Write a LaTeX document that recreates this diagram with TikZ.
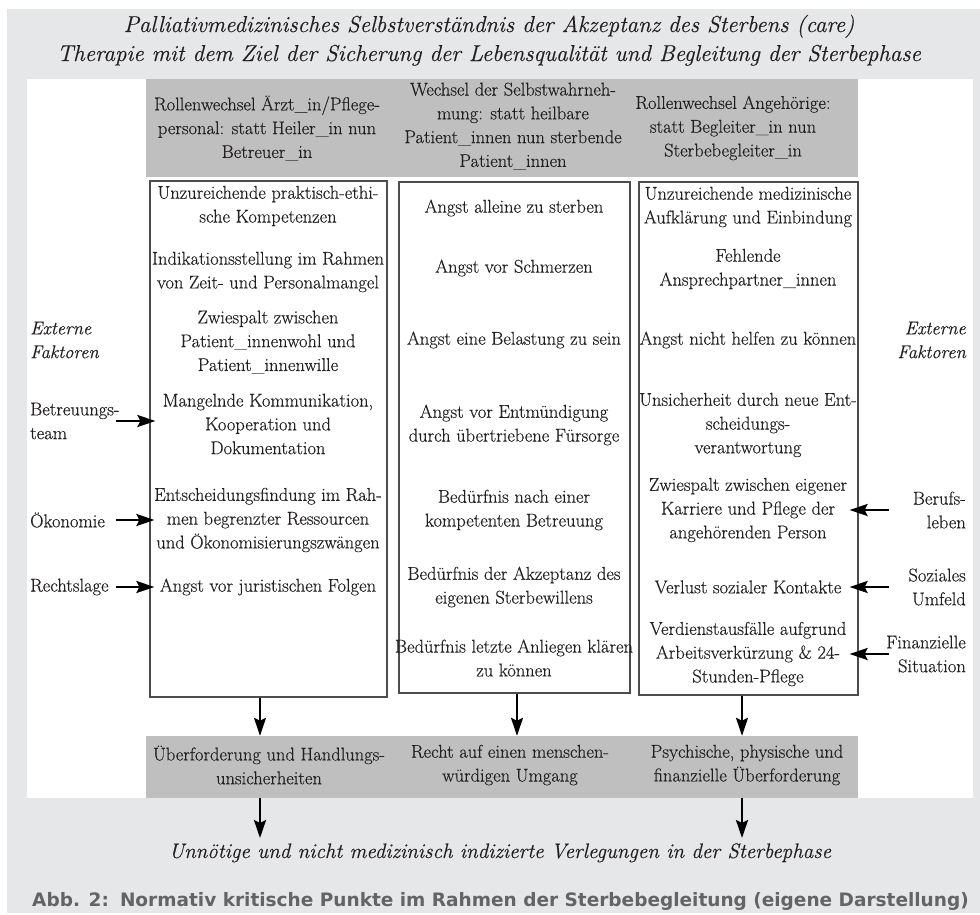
\documentclass[tikz,border=0pt]{standalone}
\usepackage{fontspec}
\newfontfamily\capfont{DejaVu Sans}
\newfontfamily\bodyfont{Latin Modern Roman}[FakeBold=0.35]
\usetikzlibrary{arrows.meta}
\definecolor{bg}{HTML}{E6E7E9}
\definecolor{band}{HTML}{BFBFBF}
\definecolor{ink}{HTML}{231F20}
\definecolor{frame}{HTML}{4D4D4D}
\definecolor{capgray}{HTML}{636466}
\tikzset{
  txt/.style={font=\bodyfont\fontsize{18.5}{23.8}\selectfont, align=center, inner sep=0pt, text=ink},
  lbl/.style={txt, align=left, anchor=west},
  rlbl/.style={txt, align=right, anchor=east},
  itl/.style={font=\bodyfont\fontsize{18.5}{23.8}\selectfont\itshape, inner sep=0pt, text=ink},
  ttl/.style={font=\bodyfont\fontsize{23}{29}\selectfont\itshape, inner sep=0pt, text=ink, anchor=base},
  frbox/.style={draw=frame, line width=1.2pt, fill=white, inner sep=0pt},
  bandbox/.style={fill=band, inner sep=0pt},
  arr/.style={-{Stealth[length=18pt,width=12pt,inset=3pt]}, line width=2.4pt, draw=black},
}
\begin{document}
\begin{tikzpicture}[x=1pt,y=-1pt]
\useasboundingbox (0,0) rectangle (980,914);
\fill[white] (0,0) rectangle (980,914);
\fill[bg] (7,9) rectangle (980,913);
\fill[white] (27,79) rectangle (973,798);

% title
\node[ttl] (title1) at (489,32) {Palliativmedizinisches Selbstverständnis der Akzeptanz des Sterbens (care)};
\node[ttl] (title2) at (489,61) {Therapie mit dem Ziel der Sicherung der Lebensqualität und Begleitung der Sterbephase};

% header band
\node[bandbox, minimum width=712pt, minimum height=98pt] (topband) at (502,128) {};
\node[txt] (hL) at (267,128) {Rollenwechsel Ärzt\_in/Pflege-\\personal: statt Heiler\_in nun\\Betreuer\_in};
\node[txt] (hM) at (513,126) {Wechsel der Selbstwahrneh-\\mung: statt heilbare\\Patient\_innen nun sterbende\\Patient\_innen};
\node[txt] (hR) at (733,128) {Rollenwechsel Angehörige:\\statt Begleiter\_in nun\\Sterbebegleiter\_in};

% column boxes
\node[frbox, minimum width=237pt, minimum height=516pt] (boxL) at (268.5,439) {};
\node[frbox, minimum width=231pt, minimum height=511pt] (boxM) at (514.5,437.5) {};
\node[frbox, minimum width=219pt, minimum height=513pt] (boxR) at (748.5,438.5) {};

% left column
\node[txt] (L1) at (268,206) {Unzureichende praktisch-ethi-\\sche Kompetenzen};
\node[txt] (L2) at (268,272) {Indikationsstellung im Rahmen\\von Zeit- und Personalmangel};
\node[txt] (L3) at (268,342) {Zwiespalt zwischen\\Patient\_innenwohl und\\Patient\_innenwille};
\node[txt] (L4) at (268,424) {Mangelnde Kommunikation,\\Kooperation und\\Dokumentation};
\node[txt] (L5) at (268,520) {Entscheidungsfindung im Rah-\\men begrenzter Ressourcen\\und Ökonomisierungszwängen};
\node[txt] (L6) at (268,587) {Angst vor juristischen Folgen};

% middle column
\node[txt] (M1) at (514,208) {Angst alleine zu sterben};
\node[txt] (M2) at (514,268) {Angst vor Schmerzen};
\node[txt] (M3) at (514,340) {Angst eine Belastung zu sein};
\node[txt] (M4) at (514,425) {Angst vor Entmündigung\\durch übertriebene Fürsorge};
\node[txt] (M5) at (514,510) {Bedürfnis nach einer\\kompetenten Betreuung};
\node[txt] (M6) at (514,587) {Bedürfnis der Akzeptanz des\\eigenen Sterbewillens};
\node[txt] (M7) at (514,658) {Bedürfnis letzte Anliegen klären\\zu können};

% right column
\node[txt] (R1) at (748,207) {Unzureichende medizinische\\Aufklärung und Einbindung};
\node[txt] (R2) at (748,269) {Fehlende\\Ansprechpartner\_innen};
\node[txt] (R3) at (748,340) {Angst nicht helfen zu können};
\node[txt] (R4) at (748,425) {Unsicherheit durch neue Ent-\\scheidungs-\\verantwortung};
\node[txt] (R5) at (748,510) {Zwiespalt zwischen eigener\\Karriere und Pflege der\\angehörenden Person};
\node[txt] (R6) at (748,587) {Verlust sozialer Kontakte};
\node[txt] (R7) at (748,654) {Verdienstausfälle aufgrund\\Arbeitsverkürzung \& 24-\\Stunden-Pflege};

% external factors left
\node[itl, align=left, anchor=west] (extL) at (30,340) {Externe\\Faktoren};
\node[lbl] (lbBet) at (30,421) {Betreuungs-\\team};
\node[lbl] (lbOek) at (30,520) {Ökonomie};
\node[lbl] (lbRecht) at (30,587) {Rechtslage};

% external factors right
\node[itl, align=right, anchor=east] (extR) at (966,340) {Externe\\Faktoren};
\node[rlbl] (lbBeruf) at (966,510) {Berufs-\\leben};
\node[rlbl] (lbSoz) at (966,587) {Soziales\\Umfeld};
\node[rlbl] (lbFin) at (966,654) {Finanzielle\\Situation};

\coordinate (lA) at (116,0);
\coordinate (rA) at (889,0);
\draw[arr, shorten >=-6pt] (lbBet.east -| lA) -- (boxL.west |- lbBet.east);
\draw[arr, shorten >=-5pt] (lbOek.east -| lA) -- (boxL.west |- lbOek.east);
\draw[arr, shorten >=-5pt] (lbRecht.east -| lA) -- (boxL.west |- lbRecht.east);
\draw[arr, shorten >=-9pt] (lbBeruf.west -| rA) -- (boxR.east |- lbBeruf.west);
\draw[arr, shorten >=-9pt] (lbSoz.west -| rA) -- (boxR.east |- lbSoz.west);
\draw[arr, shorten >=-9pt] (lbFin.west -| rA) -- (boxR.east |- lbFin.west);

% bottom band
\node[bandbox, minimum width=712pt, minimum height=62pt] (botband) at (502,767) {};
\node[txt] (bL) at (269,765) {Überforderung und Handlungs-\\unsicherheiten};
\node[txt] (bM) at (510,765) {Recht auf einen menschen-\\würdigen Umgang};
\node[txt] (bR) at (747,765) {Psychische, physische und\\finanzielle Überforderung};

% conclusion
\node[ttl, font=\bodyfont\fontsize{21}{26}\selectfont\itshape] (concl) at (500,858) {Unnötige und nicht medizinisch indizierte Verlegungen in der Sterbephase};

\coordinate (dL) at (260,0);
\coordinate (dM) at (517,0);
\coordinate (dR) at (742,0);
\draw[arr] (boxL.south -| dL) -- (botband.north -| dL);
\draw[arr] (boxM.south -| dM) -- (botband.north -| dM);
\draw[arr] (boxR.south -| dR) -- (botband.north -| dR);
\coordinate (cT) at (0,838);
\draw[arr] (botband.south -| dL) -- (cT -| dL);
\draw[arr] (botband.south -| dR) -- (cT -| dR);

% caption
\node[font=\capfont\bfseries\fontsize{18.5}{22}\selectfont, text=capgray, anchor=base west, inner sep=0pt] (caption) at (32,906) {Abb. 2:\hspace{0.6em}Normativ kritische Punkte im Rahmen der Sterbebegleitung (eigene Darstellung)};
\end{tikzpicture}
\end{document}
